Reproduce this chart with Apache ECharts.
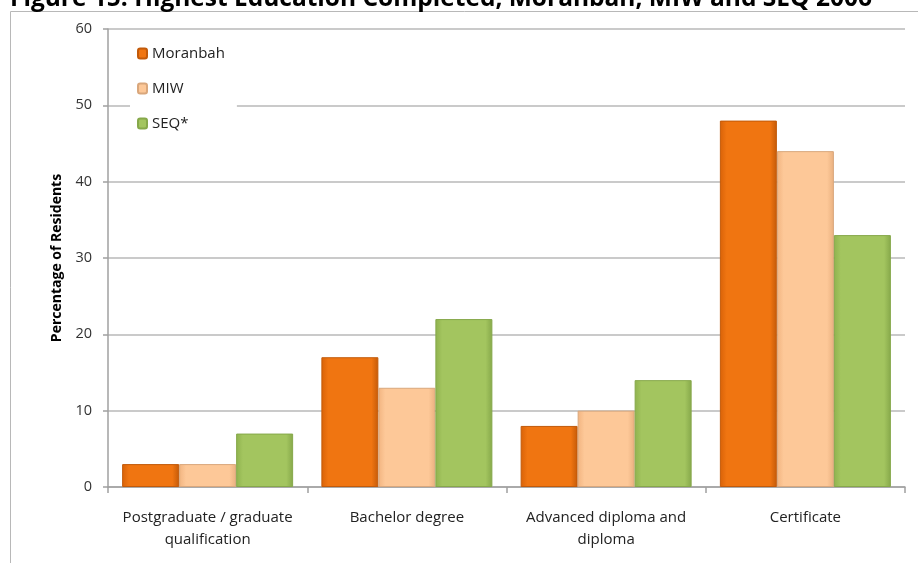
<!DOCTYPE html>
<html><head><meta charset="utf-8">
<script src="https://cdn.jsdelivr.net/npm/echarts@6/dist/echarts.min.js"></script>
<style>html,body{margin:0;padding:0;background:#fff}#c{width:918px;height:563px}</style>
</head><body><div id="c"></div>
<script>
var categories = ['Postgraduate / graduate\nqualification', 'Bachelor degree', 'Advanced diploma and\ndiploma', 'Certificate'];
var moranbah = [3, 17, 8, 48];
var miw = [3, 13, 10, 44];
var seq = [7, 22, 14, 33];
var seriesNames = ['Moranbah', 'MIW', 'SEQ*'];
var titleText = 'Figure 15: Highest Education Completed, Moranbah, MIW and SEQ 2006';

var chart = echarts.init(document.getElementById('c'), null, {renderer: 'canvas'});
function grad(c1, c2, c3) {
  return new echarts.graphic.LinearGradient(0, 0, 1, 0, [
    {offset: 0, color: c1}, {offset: 0.12, color: c2}, {offset: 0.88, color: c2}, {offset: 1, color: c3}
  ]);
}
var font = '"Open Sans", "Liberation Sans", sans-serif';
function bar(name, data, fill, border) {
  return {
    name: name, type: 'bar', data: data, barWidth: 57, barGap: '0%',
    itemStyle: {color: fill, borderColor: border, borderWidth: 1}
  };
}
chart.setOption({
  animation: false,
  textStyle: {fontFamily: font},
  title: {
    text: titleText, left: 5, top: -18,
    textStyle: {fontSize: 24.5, fontWeight: 'bold', color: '#000', fontFamily: font}
  },
  graphic: [{
    type: 'rect', shape: {x: 10.5, y: 11.5, width: 920, height: 560},
    style: {fill: 'none', stroke: '#b8b8b8', lineWidth: 1}, z: -1
  }],
  grid: {left: 108, right: 13, top: 29, bottom: 76, containLabel: false},
  legend: {
    orient: 'vertical', left: 130, top: 38, padding: [8, 12, 18, 7],
    itemWidth: 9, itemHeight: 10, itemGap: 20,
    backgroundColor: '#fff',
    textStyle: {fontSize: 15, color: '#222', fontFamily: font},
    data: seriesNames
  },
  xAxis: {
    type: 'category', data: categories,
    axisLine: {lineStyle: {color: '#a0a0a0', width: 1.5}},
    axisTick: {show: true, length: 6, lineStyle: {color: '#a0a0a0', width: 1.5}},
    axisLabel: {fontSize: 15, color: '#222', margin: 20, lineHeight: 22, interval: 0}
  },
  yAxis: {
    type: 'value', min: 0, max: 60, interval: 10,
    name: 'Percentage of Residents', nameLocation: 'middle', nameGap: 44,
    nameTextStyle: {fontSize: 14, fontWeight: 'bold', color: '#000'},
    axisLine: {show: true, lineStyle: {color: '#a0a0a0', width: 1.5}},
    axisTick: {show: true, length: 5, lineStyle: {color: '#a0a0a0', width: 1.5}},
    axisLabel: {fontSize: 14.5, color: '#333', margin: 16},
    splitLine: {lineStyle: {color: '#b8b8b8', width: 1.5}}
  },
  series: [
    bar(seriesNames[0], moranbah, grad('#d86208', '#f07511', '#c45a08'), '#c25a0a'),
    bar(seriesNames[1], miw, grad('#f2b480', '#fdc898', '#e9b07f'), '#d9a77c'),
    bar(seriesNames[2], seq, grad('#8fb24e', '#a3c55f', '#86a84a'), '#86a84a')
  ]
});
</script></body></html>
